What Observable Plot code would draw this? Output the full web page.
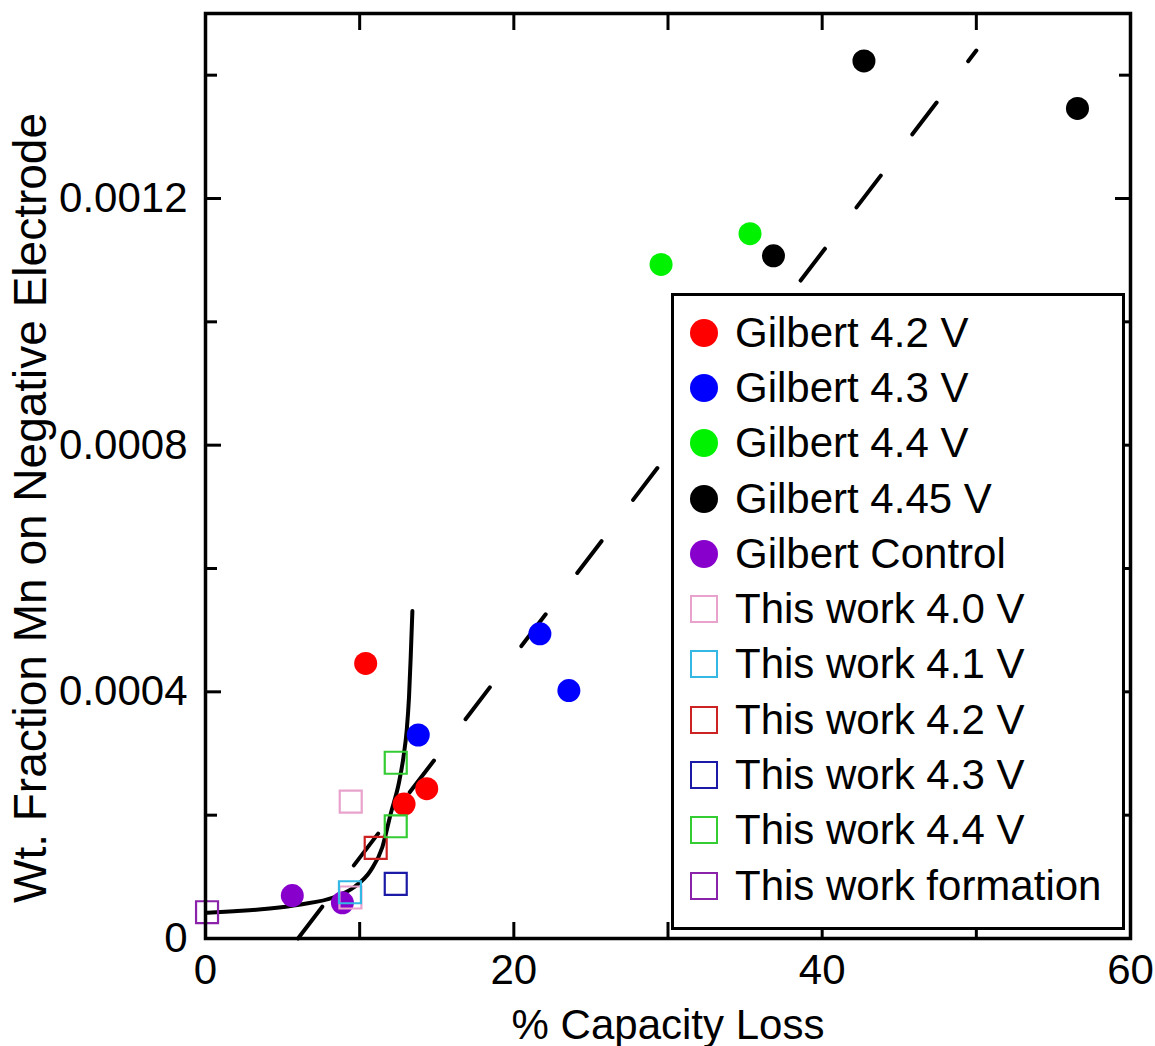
<!DOCTYPE html>
<html>
<head>
<meta charset="utf-8">
<script src="https://cdn.jsdelivr.net/npm/d3@7"></script>
<script src="https://cdn.jsdelivr.net/npm/@observablehq/plot@0.6"></script>
<style>
  body { margin: 0; background: #fff; }
  #wrap { position: relative; width: 1155px; height: 1046px; font-family: "Liberation Sans", Arial, sans-serif; }
  #legend { position: absolute; left: 671px; top: 293px; width: 454px; height: 637px; box-sizing: border-box;
            border: 3px solid #000; background: #fff; padding-top: 9px; }
  .row { height: 55.3px; display: flex; align-items: center; font-size: 42px; color: #000; white-space: nowrap; }
  .mk { width: 28px; height: 28px; margin-left: 16px; margin-right: 17px; box-sizing: border-box; flex: none; }
</style>
</head>
<body>
<div id="wrap"><div id="chart"></div><div id="legend"></div></div>
<script>
// ---- data ----
const series = ["Gilbert 4.2 V", "Gilbert 4.3 V", "Gilbert 4.4 V", "Gilbert 4.45 V", "Gilbert Control",
  "This work 4.0 V", "This work 4.1 V", "This work 4.2 V", "This work 4.3 V", "This work 4.4 V", "This work formation"];
const colors = ["#ff0000", "#0000ff", "#00f200", "#000000", "#8800cc",
  "#e8a2cc", "#33b8e6", "#cc2222", "#1a1aa6", "#33cc33", "#8a22aa"];
const symbols = ["circle", "circle", "circle", "circle", "circle",
  "square", "square", "square", "square", "square", "square"];
const capLoss = [
  [10.39, 12.88, 14.35],
  [13.8, 21.69, 23.57],
  [29.55, 35.32],
  [36.84, 42.71, 56.56],
  [5.63, 8.88],
  [9.42, 9.4],
  [9.37],
  [11.04],
  [12.34],
  [12.34, 12.34],
  [0.1]
];
const mnFrac = [
  [0.000446, 0.000218, 0.000243],
  [0.00033, 0.000494, 0.000402],
  [0.001093, 0.001143],
  [0.001107, 0.001423, 0.001346],
  [0.0000696, 0.0000578],
  [0.000222, 0.0000665],
  [0.000075],
  [0.000147],
  [0.0000886],
  [0.000285, 0.000182],
  [0.0000426]
];
// solid curve
const curveX = [0.11, 1.84, 4.0, 6.17, 8.33, 9.63, 10.71, 11.47, 12.01, 12.55, 12.84, 13.05, 13.2, 13.31, 13.42];
const curveY = [0.0000416, 0.0000442, 0.0000481, 0.0000551, 0.0000669, 0.0000831, 0.00011, 0.000148, 0.000202, 0.000253, 0.000294, 0.000337, 0.000391, 0.000456, 0.000531];
// dashed line endpoints
const dashX = [6.0, 50.0];
const dashY = [0.0, 0.00144];
// ticks
const xTicks = [0, 10, 20, 30, 40, 50, 60];
const xLabels = [0, 20, 40, 60];
const yMajor = [0, 0.0004, 0.0008, 0.0012];
const yMinor = [0.0002, 0.0006, 0.001, 0.0014];
const xTitle = "% Capacity Loss";
const yTitle = "Wt. Fraction Mn on Negative Electrode";

// ---- build tables ----
const points = [];
series.forEach((s, i) => capLoss[i].forEach((x, j) => points.push({series: s, symbol: symbols[i], x, y: mnFrac[i][j]})));
const circles = points.filter(d => d.symbol === "circle");
const squares = points.filter(d => d.symbol === "square");
const curve = curveX.map((x, i) => ({x, y: curveY[i]}));
const dash = dashX.map((x, i) => ({x, y: dashY[i]}));

const fmtY = d => d === 0 ? "0" : d.toFixed(4);
const TW = 3;

const chart = Plot.plot({
  width: 1155, height: 1046,
  marginLeft: 205, marginRight: 25, marginTop: 13, marginBottom: 108,
  style: { fontFamily: "'Liberation Sans', Arial, sans-serif", fontSize: "42px", color: "#000", background: "#fff" },
  x: { domain: [0, 60] },
  y: { domain: [0, 0.0015] },
  color: { domain: series, range: colors },
  marks: [
    Plot.line(dash, { x: "x", y: "y", stroke: "#000", strokeWidth: 4, strokeDasharray: "40,52", strokeLinecap: "round" }),
    Plot.line(curve, { x: "x", y: "y", stroke: "#000", strokeWidth: 4, curve: "monotone-x" }),
    Plot.dot(circles, { x: "x", y: "y", fill: "series", r: 11.5 }),
    Plot.dot(squares, { x: "x", y: "y", stroke: "series", symbol: "square", r: 12.4, strokeWidth: 2.2, fill: "none" }),
    // inward ticks
    Plot.axisX(xTicks, { anchor: "bottom", tickSize: 16, dy: -16, strokeWidth: TW, fill: "none", label: null }),
    Plot.axisX(xTicks, { anchor: "top", tickSize: 16, dy: 16, strokeWidth: TW, fill: "none", label: null }),
    Plot.axisY(yMajor, { anchor: "left", tickSize: 16, dx: 16, strokeWidth: TW, fill: "none", label: null }),
    Plot.axisY(yMinor, { anchor: "left", tickSize: 12, dx: 12, strokeWidth: TW, fill: "none", label: null }),
    Plot.axisY(yMajor, { anchor: "right", tickSize: 16, dx: -16, strokeWidth: TW, fill: "none", label: null }),
    Plot.axisY(yMinor, { anchor: "right", tickSize: 12, dx: -12, strokeWidth: TW, fill: "none", label: null }),
    // labels
    Plot.axisX(xLabels, { anchor: "bottom", tickSize: 0, tickPadding: 16, label: xTitle, labelAnchor: "center", labelArrow: "none", labelOffset: 100 }),
    Plot.axisY(yMajor, { anchor: "left", tickSize: 0, tickPadding: 18, tickFormat: fmtY, label: null }),
    Plot.text([yTitle], { text: d => d, frameAnchor: "left", textAnchor: "middle", lineAnchor: "middle", rotate: -90, dx: -174, dy: 32, fontSize: 46 }),
    Plot.frame({ stroke: "#000", strokeWidth: 3.5 })
  ]
});
document.getElementById("chart").appendChild(chart);

// ---- legend ----
const legend = document.getElementById("legend");
series.forEach((s, i) => {
  const row = document.createElement("div");
  row.className = "row";
  const mk = document.createElement("span");
  mk.className = "mk";
  if (symbols[i] === "circle") { mk.style.background = colors[i]; mk.style.borderRadius = "50%"; }
  else { mk.style.border = `2.5px solid ${colors[i]}`; }
  const tx = document.createElement("span");
  tx.textContent = s;
  row.appendChild(mk); row.appendChild(tx);
  legend.appendChild(row);
});
</script>
</body>
</html>
